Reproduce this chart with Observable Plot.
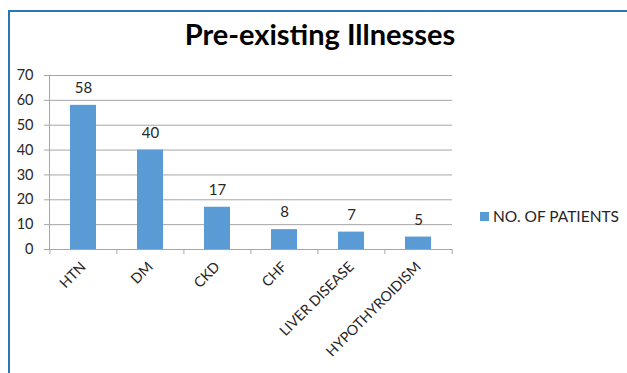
<!DOCTYPE html>
<html>
<head>
<meta charset="utf-8">
<script src="https://cdn.jsdelivr.net/npm/d3@7"></script>
<script src="https://cdn.jsdelivr.net/npm/@observablehq/plot@0.6"></script>
<style>
  html, body { margin: 0; padding: 0; background: #fff; }
  #wrap { position: relative; width: 627px; height: 373px; overflow: hidden; font-family: Lato, "Liberation Sans", sans-serif; }
  #frame { position: absolute; left: 8px; top: 10px; width: 640px; height: 400px; border-top: 2px solid #2e75b6; border-left: 2px solid #2e75b6; box-sizing: border-box; }
  #title { position: absolute; left: 0; width: 640px; top: 16px; text-align: center; font-weight: bold; font-size: 29px; color: #000; }
  #legend { position: absolute; left: 480px; top: 207px; font-size: 15.5px; color: #262626; display: flex; align-items: center; white-space: nowrap; }
  #legend .sw { width: 9px; height: 9px; background: #5b9bd5; margin-right: 4px; }
  #chart { position: absolute; left: 0; top: 0; }
</style>
</head>
<body>
<div id="wrap">
  <div id="chart"></div>
  <div id="frame"></div>
  <div id="title">Pre-existing Illnesses</div>
  <div id="legend"><span class="sw"></span><span>NO. OF PATIENTS</span></div>
</div>
<script>
// Pre-existing illnesses among patients
const illnesses = ["HTN", "DM", "CKD", "CHF", "LIVER DISEASE", "HYPOTHYROIDISM"];
const patients = [58, 40, 17, 8, 7, 5];
const yTicks = [0, 10, 20, 30, 40, 50, 60, 70];

const rows = illnesses.map((name, i) => ({name, value: patients[i]}));

const W = 627, H = 373;
const mL = 49, mR = 175, mT = 75, mB = 124;
const step = (W - mL - mR) / illnesses.length;

const fontFamily = 'Lato, "Liberation Sans", sans-serif';
const gridColor = "#a6a6a6";

const chart = Plot.plot({
  width: W,
  height: H,
  marginLeft: mL,
  marginRight: mR,
  marginTop: mT,
  marginBottom: mB,
  style: {fontFamily, fontSize: "14.5px", color: "#262626", background: "transparent"},
  x: {domain: illnesses, paddingInner: 0.61, paddingOuter: 0.305},
  y: {domain: [0, 70]},
  marks: [
    Plot.gridY(yTicks, {stroke: gridColor, strokeOpacity: 1}),
    Plot.axisY(yTicks, {tickSize: 5, tickPadding: 11, stroke: gridColor, label: null, fontSize: 14.5, fill: "#262626"}),
    Plot.barY(rows, {x: "name", y: "value", fill: "#5b9bd5"}),
    // category boundary ticks under the baseline
    Plot.ruleX(illnesses, {x: d => d, dx: -step / 2, y1: 0, y2: 0, insetBottom: -5, stroke: gridColor}),
    Plot.ruleX(illnesses.slice(-1), {x: d => d, dx: step / 2, y1: 0, y2: 0, insetBottom: -5, stroke: gridColor}),
    Plot.ruleY([0], {stroke: gridColor}),
    Plot.axisX({tickSize: 0, tickRotate: -45, tickPadding: 15, label: null, fontSize: 14.2, fill: "#262626"}),
    Plot.text(rows, {x: "name", y: "value", text: d => String(d.value), dy: -17, fontSize: 15, fill: "#262626"})
  ]
});

// vertical axis line at the left edge of the plot
d3.select(chart).append("line")
  .attr("x1", mL + 0.5).attr("x2", mL + 0.5)
  .attr("y1", mT).attr("y2", H - mB)
  .attr("stroke", gridColor);

document.getElementById("chart").appendChild(chart);
</script>
</body>
</html>
